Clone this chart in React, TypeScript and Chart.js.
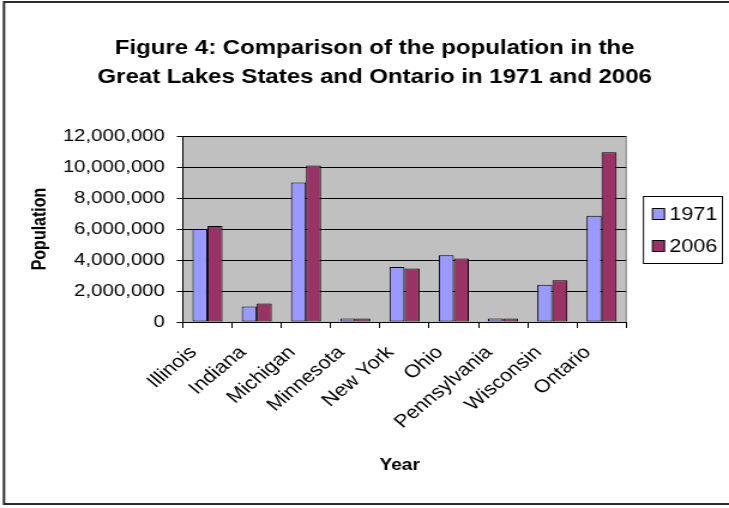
import React, { useEffect, useRef } from 'react';
import { Chart, registerables } from 'chart.js';

Chart.register(...registerables);

// ---- data ----
const categories = ['Illinois', 'Indiana', 'Michigan', 'Minnesota', 'New York', 'Ohio', 'Pennsylvania', 'Wisconsin', 'Ontario'];
const pop1971 = [6000000, 1000000, 9000000, 220000, 3550000, 4300000, 220000, 2400000, 6850000];
const pop2006 = [6200000, 1200000, 10100000, 220000, 3450000, 4100000, 220000, 2700000, 10950000];
const seriesLabels = ['1971', '2006'];
const seriesColors = ['#9999FF', '#993366'];
const yMin = 0;
const yMax = 12000000;
const yStep = 2000000;
const titleLines = ['Figure 4: Comparison of the population in the', 'Great Lakes States and Ontario in 1971 and 2006'];
const yAxisTitle = 'Population';
const xAxisTitle = 'Year';

// ---- layout (page pixels) ----
// The drawing surface is rendered narrower and widened by CSS, giving the
// slightly wide lettering of the original figure.
const SX = 1.2;
const PAGE_W = 729;
const PAGE_H = 508;
const CW = Math.round(PAGE_W / SX);
const px = (x: number) => x / SX;
const FONT = "'Liberation Sans', Arial, sans-serif";

const PLOT = { left: 183, right: 626.7, top: 136, bottom: 322 };

const decorPlugin = {
  id: 'decor',
  beforeDraw(chart: any) {
    const { ctx, chartArea: a } = chart;
    ctx.save();
    ctx.fillStyle = '#ffffff';
    ctx.fillRect(0, 0, chart.width, chart.height);
    ctx.fillStyle = '#C0C0C0';
    ctx.fillRect(a.left, a.top, a.right - a.left, a.bottom - a.top);
    ctx.strokeStyle = '#808080';
    ctx.lineWidth = 1;
    ctx.beginPath();
    ctx.moveTo(a.right, a.top);
    ctx.lineTo(a.right, a.bottom);
    ctx.stroke();
    ctx.restore();
  },
  afterDraw(chart: any) {
    const { ctx } = chart;
    ctx.save();
    // outer frame
    ctx.strokeStyle = '#2b2b2b';
    ctx.lineWidth = 2;
    ctx.beginPath();
    ctx.moveTo(chart.width + 5, 2);
    ctx.lineTo(px(4), 2);
    ctx.lineTo(px(4), 504);
    ctx.lineTo(chart.width + 5, 504);
    ctx.stroke();

    // title
    ctx.fillStyle = '#000';
    ctx.textAlign = 'center';
    ctx.textBaseline = 'middle';
    ctx.font = `bold 20px ${FONT}`;
    ctx.fillText(titleLines[0], px(375), 48);
    ctx.fillText(titleLines[1], px(375), 77);

    // axis titles
    ctx.font = `bold 16px ${FONT}`;
    ctx.fillText(xAxisTitle, px(400), 466);
    ctx.save();
    ctx.translate(px(40), 229);
    ctx.rotate(-Math.PI / 2);
    ctx.fillText(yAxisTitle, 0, 0);
    ctx.restore();

    // legend
    const lx0 = px(644), lx1 = px(723), ly0 = 196, ly1 = 263;
    ctx.fillStyle = '#ffffff';
    ctx.fillRect(lx0, ly0, lx1 - lx0, ly1 - ly0);
    ctx.strokeStyle = '#000';
    ctx.lineWidth = 1;
    ctx.strokeRect(lx0, ly0 + 0.5, lx1 - lx0, ly1 - ly0);
    const rows = [214, 246];
    ctx.font = `18px ${FONT}`;
    ctx.textAlign = 'left';
    chart.data.datasets.forEach((ds: any, i: number) => {
      const cy = rows[i];
      const sx0 = px(653), sw = px(665) - px(653);
      ctx.fillStyle = ds.backgroundColor;
      ctx.fillRect(sx0, cy - 6, sw, 12);
      ctx.strokeStyle = '#000';
      ctx.strokeRect(sx0, cy - 6 + 0.5, sw, 11);
      ctx.fillStyle = '#000';
      ctx.fillText(ds.label, px(670), cy + 1);
    });
    ctx.restore();
  },
};

export default function App() {
  const ref = useRef<HTMLCanvasElement | null>(null);

  useEffect(() => {
    const canvas = ref.current!;
    canvas.width = CW;
    canvas.height = PAGE_H;
    const chart = new Chart(canvas, {
      type: 'bar',
      data: {
        labels: categories,
        datasets: [
          { label: seriesLabels[0], data: pop1971, backgroundColor: seriesColors[0], borderColor: '#000', borderWidth: 1, borderSkipped: false },
          { label: seriesLabels[1], data: pop2006, backgroundColor: seriesColors[1], borderColor: '#000', borderWidth: 1, borderSkipped: false },
        ],
      },
      options: {
        responsive: false,
        animation: false,
        devicePixelRatio: 1,
        layout: {
          padding: { left: 0, right: CW - px(PLOT.right), top: PLOT.top, bottom: 0 },
        },
        datasets: { bar: { categoryPercentage: 0.61, barPercentage: 1 } },
        plugins: {
          legend: { display: false },
          title: { display: false },
          tooltip: { enabled: false },
        },
        scales: {
          x: {
            offset: true,
            grid: { offset: true, drawOnChartArea: false, drawTicks: true, tickLength: 6, color: '#000', lineWidth: 1 },
            border: { color: '#000', width: 1 },
            ticks: {
              autoSkip: false,
              minRotation: 45,
              maxRotation: 45,
              padding: 14,
              labelOffset: -px(14),
              color: '#000',
              font: { family: FONT, size: 18 },
            },
            afterFit: (s: any) => { s.height = PAGE_H - PLOT.bottom; },
          },
          y: {
            min: yMin,
            max: yMax,
            ticks: {
              stepSize: yStep,
              padding: px(12),
              color: '#000',
              font: { family: FONT, size: 17 },
              callback: (v: any) => Number(v).toLocaleString('en-US'),
            },
            grid: { color: '#000', lineWidth: 1, drawTicks: true, tickLength: px(6) },
            border: { color: '#000', width: 1 },
            afterFit: (s: any) => { s.width = px(PLOT.left); },
          },
        },
      },
      plugins: [decorPlugin],
    });
    return () => chart.destroy();
  }, []);

  return (
    <div style={{ position: 'absolute', left: 0, top: 0, width: PAGE_W, height: PAGE_H, overflow: 'hidden' }}>
      <canvas ref={ref} style={{ display: 'block', width: PAGE_W + 'px', height: PAGE_H + 'px' }} />
    </div>
  );
}
